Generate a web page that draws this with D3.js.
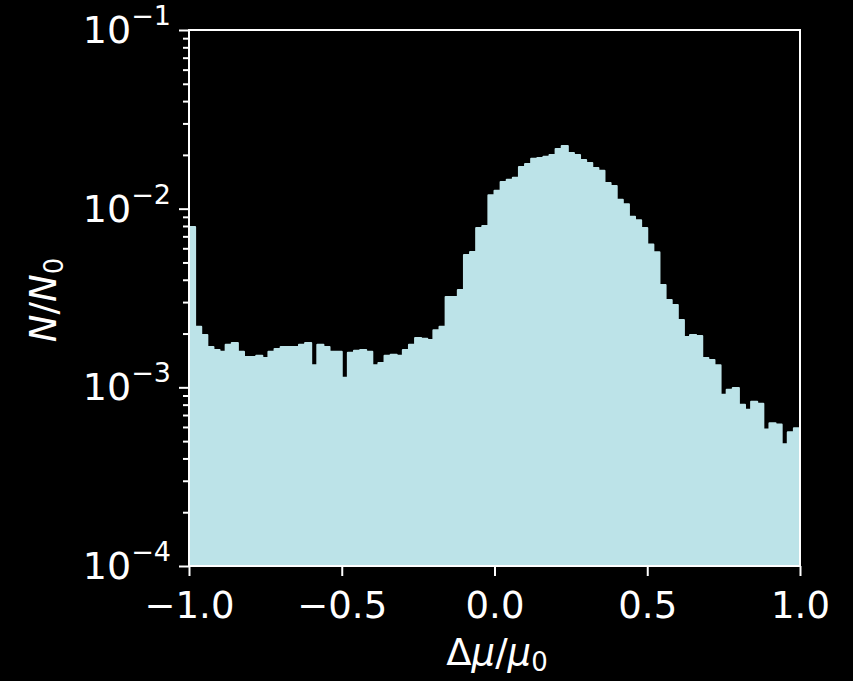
<!DOCTYPE html>
<html>
<head>
<meta charset="utf-8">
<script src="https://cdn.jsdelivr.net/npm/d3@7/dist/d3.min.js"></script>
<style>
  body { margin: 0; background: #000; }
  text { font-family: "DejaVu Sans", sans-serif; fill: #fff; }
</style>
</head>
<body>
<svg id="chart" width="853" height="681"></svg>
<script>
// histogram of delta mu / mu0, 100 bins of width 0.02 from -1 to 1
var binStart = -1
, binWidth = 0.02
, counts = [
	0.00790, 0.00218, 0.00196, 0.00168, 0.00162, 0.00158, 0.00173, 0.00177, 0.00158, 0.00148,
	0.00148, 0.00150, 0.00146, 0.00158, 0.00164, 0.00168, 0.00168, 0.00168, 0.00173, 0.00177,
	0.00133, 0.00173, 0.00168, 0.00158, 0.00158, 0.00113, 0.00156, 0.00160, 0.00162, 0.00158,
	0.00133, 0.00137, 0.00150, 0.00152, 0.00150, 0.00162, 0.00173, 0.00189, 0.00187, 0.00184,
	0.00209, 0.00218, 0.00320, 0.00320, 0.00351, 0.00551, 0.00572, 0.00780, 0.00800, 0.01190,
	0.01260, 0.01410, 0.01450, 0.01490, 0.01710, 0.01780, 0.01900, 0.01920, 0.01950, 0.02000,
	0.02160, 0.02240, 0.02050, 0.02000, 0.01870, 0.01800, 0.01690, 0.01630, 0.01390, 0.01340,
	0.01120, 0.01060, 0.00900, 0.00860, 0.00780, 0.00630, 0.00570, 0.00374, 0.00308, 0.00289,
	0.00238, 0.00191, 0.00196, 0.00194, 0.00146, 0.00142, 0.00133, 0.00091, 0.00097, 0.00099,
	0.00080, 0.00075, 0.00083, 0.00081, 0.00058, 0.00063, 0.00062, 0.00048, 0.00056, 0.00059
]
, xTicks = [-1, -0.5, 0, 0.5, 1]
, xTickLabels = ["\u22121.0", "\u22120.5", "0.0", "0.5", "1.0"]
, yTicks = [1e-4, 1e-3, 1e-2, 1e-1]
, yTickExps = ["\u22124", "\u22123", "\u22122", "\u22121"]
, fillColor = "#bce3e8";

(function(){
	var svg = d3.select("#chart")
	, pl = 189, pr = 800, pt = 30, pb = 566;

	var x = d3.scaleLinear().domain([-1, 1]).range([pl, pr]);
	var y = d3.scaleLog().domain([1e-4, 1e-1]).range([pb, pt]);

	// step points: left edge of each bin, plus closing point at x=1
	var pts = counts.map(function(c, i) { return { x: binStart + i * binWidth, v: c }; });
	pts.push({ x: binStart + counts.length * binWidth, v: counts[counts.length - 1] });

	var area = d3.area()
		.curve(d3.curveStepAfter)
		.x(function(d) { return x(d.x); })
		.y0(y(1e-4))
		.y1(function(d) { return y(d.v); });

	svg.append("path")
		.datum(pts)
		.attr("fill", fillColor)
		.attr("stroke", fillColor)
		.attr("stroke-width", 2)
		.attr("stroke-linejoin", "round")
		.attr("d", area);

	// minor log ticks
	var minors = [];
	[1e-4, 1e-3, 1e-2].forEach(function(dec) {
		for (var k = 2; k <= 9; k++) { minors.push(dec * k); }
	});

	var yMinor = svg.append("g")
		.attr("transform", "translate(" + pl + ",0)")
		.call(d3.axisLeft(y).tickValues(minors).tickSize(6).tickFormat(""));

	var yMajor = svg.append("g")
		.attr("transform", "translate(" + pl + ",0)")
		.call(d3.axisLeft(y).tickValues(yTicks).tickSize(10).tickFormat(""));

	var xAxis = svg.append("g")
		.attr("transform", "translate(0," + pb + ")")
		.call(d3.axisBottom(x).tickValues(xTicks).tickSize(10).tickPadding(8)
			.tickFormat(function(d, i) { return xTickLabels[i]; }));

	[yMinor, yMajor, xAxis].forEach(function(g) {
		g.select(".domain").remove();
		g.selectAll("line").attr("stroke", "#fff").attr("stroke-width", 2);
	});

	xAxis.selectAll("text")
		.attr("fill", "#fff")
		.attr("dy", "0.93em")
		.style("font-size", "37px")
		.style("font-family", "DejaVu Sans");

	// y labels as 10^exp
	yTicks.forEach(function(t, i) {
		var txt = svg.append("text")
			.attr("x", pl - 18)
			.attr("y", y(t) + 13)
			.attr("text-anchor", "end")
			.style("font-size", "38px");
		txt.append("tspan").text("10");
		txt.append("tspan")
			.attr("dy", -18)
			.style("font-size", "27px")
			.text(yTickExps[i]);
	});

	// frame
	svg.append("rect")
		.attr("x", pl).attr("y", pt)
		.attr("width", pr - pl).attr("height", pb - pt)
		.attr("fill", "none")
		.attr("stroke", "#fff")
		.attr("stroke-width", 2);

	// axis titles
	var yl = svg.append("text")
		.attr("transform", "translate(56,300) rotate(-90)")
		.attr("text-anchor", "middle")
		.style("font-size", "37px");
	yl.append("tspan").style("font-style", "italic").text("N");
	yl.append("tspan").text("/");
	yl.append("tspan").style("font-style", "italic").text("N");
	yl.append("tspan").attr("dy", 7).style("font-size", "26px").text("0");

	var xl = svg.append("text")
		.attr("x", 497)
		.attr("y", 665)
		.attr("text-anchor", "middle")
		.style("font-size", "37px");
	xl.append("tspan").text("\u0394");
	xl.append("tspan").style("font-style", "italic").text("\u03bc");
	xl.append("tspan").text("/");
	xl.append("tspan").style("font-style", "italic").text("\u03bc");
	xl.append("tspan").attr("dy", 6).style("font-size", "26px").text("0");
}());
</script>
</body>
</html>
